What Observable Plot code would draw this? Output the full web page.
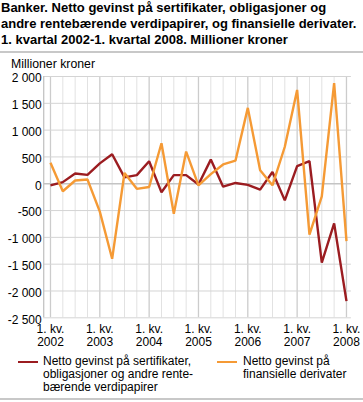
<!DOCTYPE html>
<html>
<head>
<meta charset="utf-8">
<script src="https://cdn.jsdelivr.net/npm/d3@7"></script>
<script src="https://cdn.jsdelivr.net/npm/@observablehq/plot@0.6"></script>
<style>
  html, body { margin: 0; padding: 0; background: #fff; }
  body { width: 363px; height: 402px; position: relative; overflow: hidden; font-family: "Liberation Sans", Arial, sans-serif; color: #000; }
  #title { position: absolute; left: 1px; top: 0px; font-weight: bold; font-size: 13px; line-height: 16px; white-space: nowrap; }
  .rule { position: absolute; left: 0; width: 363px; height: 2px; background: #c8c8c8; }
  #ylabel { position: absolute; left: 11px; top: 57px; font-size: 12.3px; line-height: 14px; }
  #chart { position: absolute; left: 0; top: 61px; }
  .leg { position: absolute; top: 355px; font-size: 12px; line-height: 13px; }
  .sw { position: absolute; width: 20px; height: 2.5px; top: 360.5px; }
</style>
</head>
<body>
<div id="title">Banker. Netto gevinst på sertifikater, obligasjoner og<br>andre rentebærende verdipapirer, og finansielle derivater.<br>1. kvartal 2002-1. kvartal 2008. Millioner kroner</div>
<div class="rule" style="top:50.5px"></div>
<div id="chart"></div>
<div id="ylabel">Millioner kroner</div>
<div class="sw" id="sw1" style="left:18px"></div>
<div class="leg" id="leg1" style="left:43px"></div>
<div class="sw" id="sw2" style="left:217px"></div>
<div class="leg" id="leg2" style="left:243px"></div>
<div class="rule" style="top:398px"></div>
<script>
// Quarters: 1. kv. 2002 ... 1. kv. 2008
const years = [2002, 2003, 2004, 2005, 2006, 2007, 2008];
const quarters = d3.range(25); // index 0 = 1. kv. 2002
const seriesNames = [
  "Netto gevinst på sertifikater, obligasjoner og andre rente-bærende verdipapirer",
  "Netto gevinst på finansielle derivater"
];
const legendLines1 = ["Netto gevinst på sertifikater,", "obligasjoner og andre rente-", "bærende verdipapirer"];
const legendLines2 = ["Netto gevinst på", "finansielle derivater"];
const sertifikater = [-30, 30, 190, 165, 380, 550, 120, 160, 420, -160, 160, 160, -15, 450, -55, 15, -20, -110, 220, -310, 330, 420, -1470, -740, -2190];
const derivater = [390, -140, 60, 80, -520, -1400, 200, -95, -60, 755, -560, 600, -30, 180, 360, 430, 1415, 250, -30, 690, 1750, -950, -235, 1875, -1070];
const yTicks = [2000, 1500, 1000, 500, 0, -500, -1000, -1500, -2000, -2500];
const colors = ["#9b1c20", "#f59a35"];

const xDomain = [-0.55, 24.4];
const yDomain = [-2500, 2000];
const yearTicks = years.map((y, i) => i * 4);

const loc = d3.formatLocale({decimal: ",", thousands: " ", grouping: [3], currency: ["", " kr"], minus: "-"});
const fmt = loc.format(",d");

const data = [];
quarters.forEach(i => {
  data.push({q: i, v: sertifikater[i], s: seriesNames[0]});
  data.push({q: i, v: derivater[i], s: seriesNames[1]});
});

const chart = Plot.plot({
  width: 363,
  height: 292,
  marginTop: 15,
  marginBottom: 35.7,
  marginLeft: 43.2,
  marginRight: 12.1,
  style: {fontFamily: "Liberation Sans, Arial, sans-serif", fontSize: "12px", color: "#000", background: "transparent"},
  x: {type: "linear", domain: xDomain, axis: null},
  y: {domain: yDomain, axis: null},
  color: {domain: seriesNames, range: colors},
  marks: [
    Plot.ruleX(quarters.filter(i => i % 4 !== 0), {x: d => d, y1: yDomain[0], y2: yDomain[1], stroke: "#e2e2e2", strokeWidth: 1}),
    Plot.ruleX(yearTicks, {x: d => d, y1: yDomain[0], y2: yDomain[1], stroke: "#cccccc", strokeWidth: 1.3}),
    Plot.ruleY(yTicks.filter(d => d !== 0), {y: d => d, x1: xDomain[0], x2: xDomain[1], stroke: "#d4d4d4", strokeWidth: 1}),
    Plot.ruleY([0], {y: d => d, x1: xDomain[0], x2: xDomain[1], stroke: "#c4c4c4", strokeWidth: 1.6}),
    Plot.ruleX([xDomain[0]], {x: d => d, y1: yDomain[0], y2: yDomain[1], stroke: "#c4c4c4", strokeWidth: 1.3}),
    Plot.axisY({ticks: yTicks, tickFormat: fmt, tickSize: 0, tickPadding: 2, label: null, fontSize: 12, dy: 2}),
    Plot.axisX({ticks: yearTicks, tickFormat: i => `1. kv.\n${years[i / 4]}`, tickSize: 0, tickPadding: 5.5, label: null, fontSize: 12, lineHeight: 1.1}),
    Plot.line(data, {x: "q", y: "v", z: "s", stroke: "s", strokeWidth: 2.4, strokeLinejoin: "miter", strokeLinecap: "butt"})
  ]
});
document.getElementById("chart").appendChild(chart);

document.getElementById("sw1").style.background = colors[0];
document.getElementById("sw2").style.background = colors[1];
document.getElementById("leg1").innerHTML = legendLines1.join("<br>");
document.getElementById("leg2").innerHTML = legendLines2.join("<br>");
</script>
</body>
</html>
